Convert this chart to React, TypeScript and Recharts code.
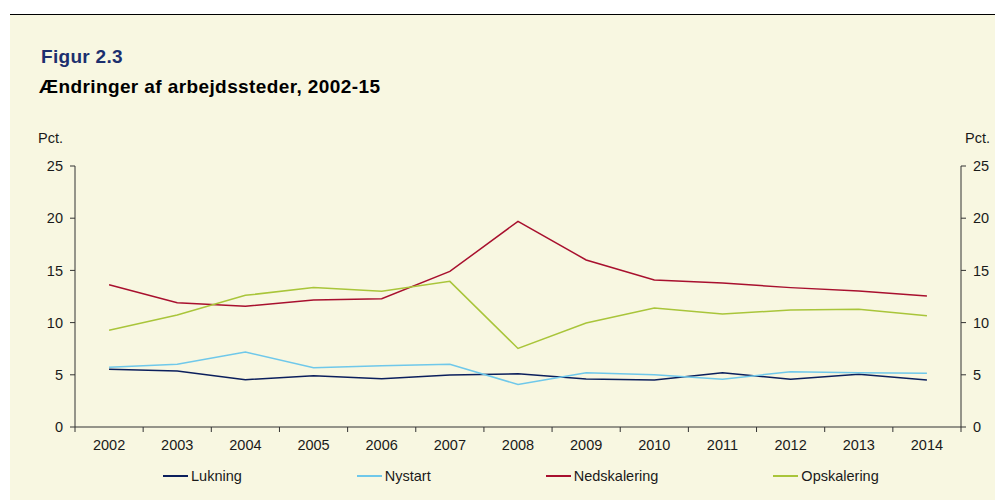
import React from "react";
import { LineChart, Line, XAxis, YAxis } from "recharts";

const years = ["2002","2003","2004","2005","2006","2007","2008","2009","2010","2011","2012","2013","2014"];
const lukning = [5.52,5.36,4.53,4.92,4.63,4.98,5.1,4.6,4.5,5.2,4.57,5.05,4.5];
const nystart = [5.72,6.0,7.18,5.68,5.87,6.0,4.07,5.2,5.01,4.57,5.3,5.2,5.14];
const nedskalering = [13.63,11.9,11.56,12.16,12.29,14.9,19.7,16.0,14.08,13.8,13.35,13.03,12.55];
const opskalering = [9.26,10.73,12.61,13.35,13.0,13.95,7.52,9.96,11.4,10.82,11.2,11.27,10.66];
const yTicks = [0,5,10,15,20,25];

// Both axes share the same 0-25 scale; the last series is bound to the right axis so it renders its ticks.
const series = [
  { key: "Lukning", values: lukning, color: "#0B1F5C", axis: "left" },
  { key: "Nystart", values: nystart, color: "#6FC8EA", axis: "left" },
  { key: "Nedskalering", values: nedskalering, color: "#A8102E", axis: "left" },
  { key: "Opskalering", values: opskalering, color: "#A9C53A", axis: "right" },
];

const data = years.map((y, i) => {
  const row: any = { year: y };
  series.forEach((s) => (row[s.key] = s.values[i]));
  return row;
});

const FONT = "'Liberation Sans', Arial, sans-serif";
const BG = "#F8F7E1";
const CHART_W = 993;
const CHART_H = 486;
const MARGIN = { top: 151, right: 5, bottom: 44, left: 5 };
const LEFT_W = 60;
const RIGHT_W = 37;
const PLOT_W = CHART_W - MARGIN.left - MARGIN.right - LEFT_W - RIGHT_W;
const HALF_BAND = PLOT_W / years.length / 2;

const XTick = (props: any) => {
  const { x, y, payload, index } = props;
  return (
    <g>
      <line x1={x - HALF_BAND} x2={x - HALF_BAND} y1={y} y2={y + 5} stroke="#333" strokeWidth={1} />
      {index === years.length - 1 && (
        <line x1={x + HALF_BAND} x2={x + HALF_BAND} y1={y} y2={y + 5} stroke="#333" strokeWidth={1} />
      )}
      <text x={x} y={y + 23} textAnchor="middle" fontSize={14.5} fontFamily={FONT} fill="#1a1a1a">
        {payload.value}
      </text>
    </g>
  );
};

export default function App() {
  return (
    <div
      style={{
        position: "relative",
        marginLeft: 2,
        marginTop: 6,
        width: CHART_W,
        height: CHART_H,
        background: BG,
        borderTop: "1px solid #000",
        fontFamily: FONT,
      }}
    >
      <div style={{ position: "absolute", left: 31, top: 33, fontSize: 19, lineHeight: "18px", fontWeight: "bold", color: "#1C2F6E", letterSpacing: 0.3 }}>
        Figur 2.3
      </div>
      <div style={{ position: "absolute", left: 29, top: 63, fontSize: 19, lineHeight: "18px", fontWeight: "bold", color: "#000", letterSpacing: 0.4, whiteSpace: "nowrap" }}>
        Ændringer af arbejdssteder, 2002-15
      </div>
      <div style={{ position: "absolute", left: 0, width: 53, top: 115, fontSize: 14.5, lineHeight: "16px", textAlign: "right", color: "#1a1a1a" }}>
        Pct.
      </div>
      <div style={{ position: "absolute", left: 955, top: 115, fontSize: 14.5, lineHeight: "16px", color: "#1a1a1a" }}>
        Pct.
      </div>
      <div style={{ position: "absolute", left: 0, top: 0 }}>
        <LineChart width={CHART_W} height={CHART_H} data={data} margin={MARGIN}>
          <XAxis
            dataKey="year"
            scale="band"
            height={30}
            tickSize={0}
            tickMargin={0}
            tickLine={false}
            axisLine={{ stroke: "#333", strokeWidth: 1 }}
            tick={<XTick />}
            interval={0}
          />
          <YAxis
            yAxisId="left"
            orientation="left"
            width={LEFT_W}
            domain={[0, 25]}
            ticks={yTicks}
            tickSize={5}
            tickMargin={7}
            axisLine={{ stroke: "#333", strokeWidth: 1 }}
            tickLine={{ stroke: "#333", strokeWidth: 1 }}
            tick={{ fontSize: 14.5, fontFamily: FONT, fill: "#1a1a1a" }}
          />
          <YAxis
            yAxisId="right"
            orientation="right"
            width={RIGHT_W}
            domain={[0, 25]}
            ticks={yTicks}
            tickSize={5}
            tickMargin={7}
            axisLine={{ stroke: "#333", strokeWidth: 1 }}
            tickLine={{ stroke: "#333", strokeWidth: 1 }}
            tick={{ fontSize: 14.5, fontFamily: FONT, fill: "#1a1a1a", textAnchor: "start" }}
          />
          {series.map((s) => (
            <Line
              key={s.key}
              yAxisId={s.axis}
              type="linear"
              dataKey={s.key}
              stroke={s.color}
              strokeWidth={1.5}
              dot={false}
              activeDot={false}
              isAnimationActive={false}
            />
          ))}
        </LineChart>
      </div>
      <div style={{ position: "absolute", left: 153, top: 453, display: "flex", alignItems: "center", fontSize: 14.5, lineHeight: "16px", color: "#1a1a1a" }}>
        {series.map((s) => (
          <div key={s.key} style={{ display: "flex", alignItems: "center", marginRight: 115 }}>
            <div style={{ width: 25, height: 1.5, background: s.color, marginRight: 3 }} />
            <span>{s.key}</span>
          </div>
        ))}
      </div>
    </div>
  );
}
